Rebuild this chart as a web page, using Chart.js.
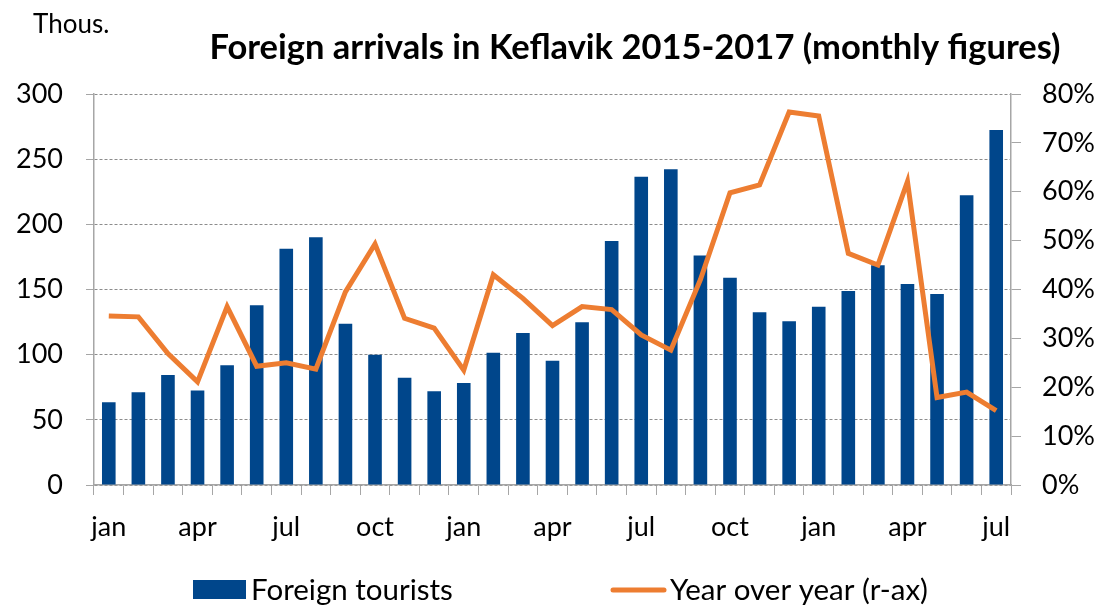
<!DOCTYPE html>
<html>
<head>
<meta charset="utf-8">
<title>Foreign arrivals in Keflavik 2015-2017</title>
<script src="https://cdn.jsdelivr.net/npm/chart.js@4/dist/chart.umd.min.js"></script>
<style>
  html, body { margin: 0; padding: 0; background: #ffffff; }
  #wrap { width: 1102px; height: 605px; }
</style>
</head>
<body>
<div id="wrap"><canvas id="chart" width="1102" height="605"></canvas></div>
<script>
// Months Jan 2015 .. Jul 2017
const months = [
  'jan','feb','mar','apr','may','jun','jul','aug','sep','oct','nov','dec',
  'jan','feb','mar','apr','may','jun','jul','aug','sep','oct','nov','dec',
  'jan','feb','mar','apr','may','jun','jul'
];

// Foreign tourists through Keflavik, thousands
const touristsThous = [
  63.4, 71.1, 84.4, 72.6, 91.8, 137.9, 181.3, 190.0, 123.8, 100.0, 82.3, 71.9,
  78.3, 101.5, 116.6, 95.4, 124.8, 187.2, 236.6, 242.2, 176.0, 159.1, 132.5, 125.6,
  136.8, 148.9, 168.6, 154.2, 146.6, 222.3, 272.4
];

// Year-over-year change, percent (right axis)
const yoyPct = [
  34.6, 34.4, 26.9, 21.1, 36.5, 24.3, 25.0, 23.7, 39.5, 49.3, 34.1, 32.1,
  23.5, 43.0, 38.2, 32.6, 36.5, 35.9, 30.7, 27.6, 42.0, 59.8, 61.4, 76.3,
  75.5, 47.4, 45.0, 62.1, 17.9, 19.0, 15.2
];

const leftTicks = { min: 0, max: 300, step: 50 };
const rightTicks = { min: 0, max: 80, step: 10 };

const titleText = 'Foreign arrivals in Keflavik 2015-2017 (monthly figures)';
const unitText = 'Thous.';
const barLabel = 'Foreign tourists';
const lineLabel = 'Year over year (r-ax)';

const FONT = 'Lato, "Open Sans", "DejaVu Sans", sans-serif';
const BLUE = '#00468B';
const ORANGE = '#ED7D31';
const AXIS = '#a6a6a6';

// Title, unit note and legend drawn on top of the chart
const decor = {
  id: 'decor',
  afterDraw(chart) {
    const c = chart.ctx;
    const ds = chart.data.datasets;
    const line = ds[0], bars = ds[1];
    c.save();
    c.fillStyle = '#000';
    c.textBaseline = 'alphabetic';

    c.font = '26px ' + FONT;
    c.textAlign = 'left';
    c.fillText(unitText, 33, 33);

    c.font = 'bold 34.5px ' + FONT;
    c.textAlign = 'center';
    c.fillText(titleText, 635, 59);

    // legend
    c.fillStyle = bars.backgroundColor;
    c.fillRect(193, 580, 53, 19);
    c.fillStyle = '#000';
    c.font = '29.5px ' + FONT;
    c.textAlign = 'left';
    c.fillText(bars.label, 251, 600);

    c.strokeStyle = line.borderColor;
    c.lineWidth = 5;
    c.lineCap = 'round';
    c.beginPath();
    c.moveTo(613, 590);
    c.lineTo(664, 590);
    c.stroke();
    c.fillText(line.label, 670, 600);
    c.restore();
  }
};

function build() {
  Chart.defaults.font.family = FONT;
  Chart.defaults.color = '#000';

  new Chart(document.getElementById('chart'), {
    data: {
      labels: months,
      datasets: [
        {
          type: 'line',
          label: lineLabel,
          data: yoyPct,
          yAxisID: 'y1',
          borderColor: ORANGE,
          backgroundColor: ORANGE,
          borderWidth: 5,
          pointRadius: 0,
          tension: 0,
          order: 0
        },
        {
          type: 'bar',
          label: barLabel,
          data: touristsThous,
          yAxisID: 'y',
          backgroundColor: BLUE,
          barPercentage: 0.46,
          categoryPercentage: 1,
          order: 1
        }
      ]
    },
    options: {
      responsive: false,
      animation: false,
      layout: { padding: { top: 94, bottom: 50, left: 0, right: 0 } },
      plugins: {
        legend: { display: false },
        tooltip: { enabled: false },
        title: { display: false }
      },
      scales: {
        x: {
          offset: true,
          grid: { offset: true, drawOnChartArea: false, drawTicks: true, tickLength: 10, color: AXIS, lineWidth: 1 },
          border: { color: AXIS, width: 1.5 },
          ticks: {
            autoSkip: false,
            maxRotation: 0,
            padding: 16,
            font: { size: 27 },
            callback: (v, i) => (i % 3 === 0 ? months[i] : '')
          },
          afterFit: s => { s.height = 70; }
        },
        y: {
          position: 'left',
          min: leftTicks.min,
          max: leftTicks.max,
          ticks: { stepSize: leftTicks.step, padding: 23, font: { size: 27 } },
          grid: { color: '#8c8c8c', lineWidth: 1, tickLength: 8, tickColor: AXIS, tickBorderDash: [] },
          border: { display: true, color: AXIS, width: 1.5, dash: [3, 2] },
          afterFit: s => { s.width = 94; }
        },
        y1: {
          position: 'right',
          min: rightTicks.min,
          max: rightTicks.max,
          ticks: { stepSize: rightTicks.step, padding: 21, font: { size: 27 }, callback: v => v + '%' },
          grid: { drawOnChartArea: false, tickLength: 10, color: AXIS },
          border: { color: AXIS, width: 1.5 },
          afterFit: s => { s.width = 91; }
        }
      }
    },
    plugins: [decor]
  });
}

Promise.all([
  document.fonts.load('27px Lato'),
  document.fonts.load('bold 34.5px Lato')
]).catch(() => {}).finally(build);
</script>
</body>
</html>
